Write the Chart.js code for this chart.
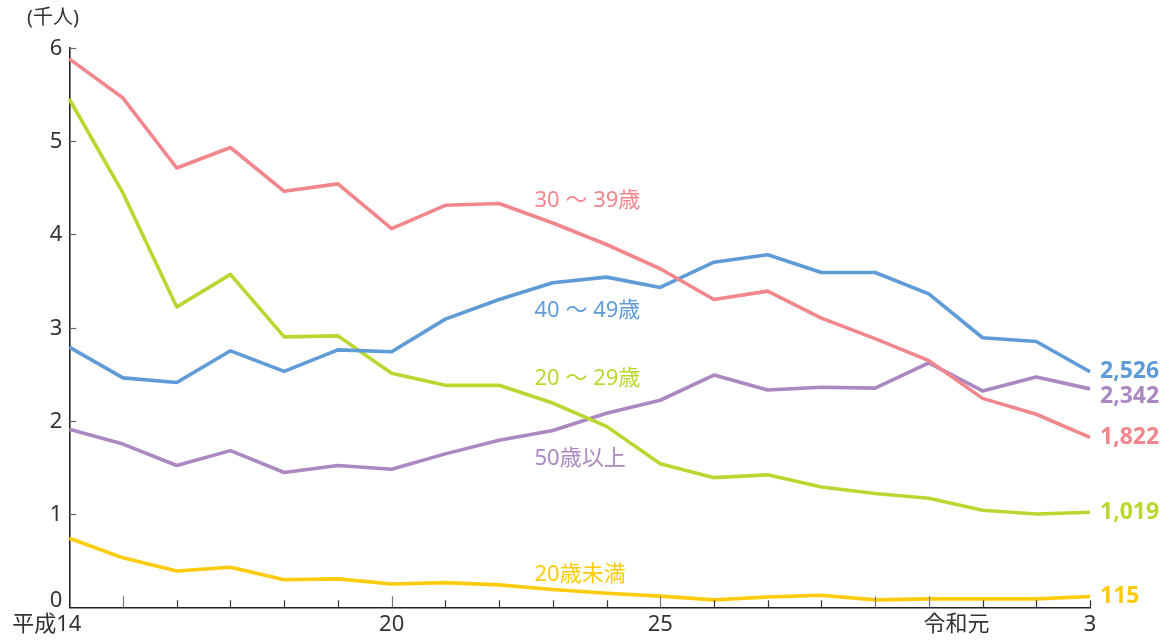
<!DOCTYPE html>
<html lang="ja">
<head>
<meta charset="utf-8">
<script src="https://cdn.jsdelivr.net/npm/chart.js@4.4.1/dist/chart.umd.min.js"></script>
<style>
  html, body { margin: 0; padding: 0; background: #ffffff; }
  #wrap { width: 1168px; height: 640px; position: relative; }
</style>
</head>
<body>
<div id="wrap"><canvas id="c" width="1168" height="640"></canvas></div>
<script>
// ---- data ----
const categories = ["平成14","15","16","17","18","19","20","21","22","23","24","25","26","27","28","29","30","令和元","2","3"];
const age30to39 = [5.88,5.46,4.71,4.93,4.46,4.54,4.06,4.31,4.33,4.12,3.89,3.63,3.30,3.39,3.10,2.88,2.645,2.24,2.07,1.822];
const age40to49 = [2.79,2.46,2.41,2.75,2.53,2.76,2.74,3.09,3.30,3.48,3.54,3.43,3.70,3.78,3.59,3.59,3.36,2.89,2.85,2.526];
const age20to29 = [5.45,4.44,3.22,3.57,2.90,2.91,2.51,2.38,2.38,2.19,1.94,1.54,1.39,1.42,1.29,1.22,1.17,1.04,1.00,1.019];
const age50plus = [1.91,1.75,1.52,1.68,1.445,1.52,1.48,1.645,1.79,1.895,2.08,2.22,2.49,2.33,2.36,2.35,2.62,2.32,2.47,2.342];
const under20   = [0.74,0.53,0.39,0.43,0.295,0.305,0.25,0.265,0.24,0.19,0.15,0.12,0.08,0.11,0.13,0.08,0.09,0.09,0.09,0.115];
const yTicks = [0,1,2,3,4,5,6];
const endLabels = ["2,526","2,342","1,822","1,019","115"];
const seriesNames = ["30 ～ 39歳","40 ～ 49歳","20 ～ 29歳","50歳以上","20歳未満"];
const xTickLabels = [{i:0,t:"平成14"},{i:6,t:"20"},{i:11,t:"25"},{i:17,t:"令和元"},{i:19,t:"3"}];

const COL = {red:"#f2868d", blue:"#5f9bd6", green:"#bcd631", purple:"#ab88c1", yellow:"#fecb0a"};
const FONT = "'Noto Sans','Noto Sans CJK JP',sans-serif";

const datasets = [
  {label: seriesNames[0], data: age30to39, borderColor: COL.red},
  {label: seriesNames[1], data: age40to49, borderColor: COL.blue},
  {label: seriesNames[2], data: age20to29, borderColor: COL.green},
  {label: seriesNames[3], data: age50plus, borderColor: COL.purple},
  {label: seriesNames[4], data: under20,   borderColor: COL.yellow}
].map(d => Object.assign(d, {borderWidth: 3.6, pointRadius: 0, tension: 0, fill: false, borderJoinStyle: 'round'}));

// label anchors in data units (index, value)
const seriesLabelPos = [
  {x: 8.66, y: 4.36, c: COL.red},
  {x: 8.66, y: 3.18, c: COL.blue},
  {x: 8.66, y: 2.45, c: COL.green},
  {x: 8.66, y: 1.59, c: COL.purple},
  {x: 8.66, y: 0.35, c: COL.yellow}
];
const endColors = [COL.blue, COL.purple, COL.red, COL.green, COL.yellow];
const endSeries = [age40to49, age50plus, age30to39, age20to29, under20];
const endShift = [0, 8, 0, 0, 0];

const decor = {
  id: 'decor',
  afterDraw(chart) {
    const ctx = chart.ctx, xs = chart.scales.x, ys = chart.scales.y;
    const bottom = ys.getPixelForValue(0), left = xs.getPixelForValue(0);
    ctx.save();
    // x ticks (inward)
    const tall = [1,6,11,15,16];
    categories.forEach((c, i) => {
      if (i === 0) return;
      const px = Math.round(xs.getPixelForValue(i)) + 0.5;
      const isTall = tall.includes(i);
      ctx.strokeStyle = isTall ? "#777" : "#333";
      ctx.lineWidth = 1.2;
      ctx.beginPath();
      ctx.moveTo(px, bottom);
      ctx.lineTo(px, bottom - (isTall ? 11 : 7));
      ctx.stroke();
    });
    // y ticks (inward) and labels
    ctx.font = "22px " + FONT;
    ctx.textBaseline = "middle";
    ctx.textAlign = "right";
    yTicks.forEach(v => {
      const py = Math.round(ys.getPixelForValue(v)) + 0.5;
      if (v !== 0) {
        ctx.strokeStyle = "#666";
        ctx.lineWidth = 1.2;
        ctx.beginPath();
        ctx.moveTo(left, py);
        ctx.lineTo(left + 7, py);
        ctx.stroke();
      }
      ctx.fillStyle = "#333";
      ctx.fillText(String(v), left - 7, py - (v === 0 ? 7 : 0));
    });
    // x labels
    ctx.fillStyle = "#333";
    ctx.font = "22px " + FONT;
    xTickLabels.forEach(o => {
      const px = xs.getPixelForValue(o.i);
      if (o.i === 0) { ctx.textAlign = "right"; ctx.fillText(o.t, px + 12, 625); }
      else if (o.t === "令和元") { ctx.textAlign = "center"; ctx.fillText(o.t, px - 26, 625); }
      else { ctx.textAlign = "center"; ctx.fillText(o.t, px, 625); }
    });
    // axis title
    ctx.textAlign = "left";
    ctx.font = "20px " + FONT;
    ctx.fillText("(千人)", 27, 18);
    // series labels
    ctx.font = "22px " + FONT;
    seriesLabelPos.forEach((p, k) => {
      ctx.fillStyle = p.c;
      ctx.fillText(seriesNames[k], xs.getPixelForValue(p.x), ys.getPixelForValue(p.y));
    });
    // end labels
    ctx.font = "bold 23px " + FONT;
    endLabels.forEach((t, k) => {
      const arr = endSeries[k];
      ctx.fillStyle = endColors[k];
      ctx.fillText(t, xs.getPixelForValue(arr.length - 1) + 10, ys.getPixelForValue(arr[arr.length - 1]) + endShift[k]);
    });
    ctx.restore();
  }
};

new Chart(document.getElementById('c'), {
  type: 'line',
  data: { labels: categories, datasets },
  options: {
    responsive: false,
    animation: false,
    layout: { padding: { left: 0, right: 78, top: 47.7, bottom: 0 } },
    plugins: { legend: { display: false }, tooltip: { enabled: false } },
    scales: {
      x: {
        type: 'category',
        offset: false,
        grid: { display: false },
        border: { display: true, color: "#222", width: 1.6 },
        ticks: { display: false },
        afterFit(s) { s.height = 32.7; }
      },
      y: {
        min: 0, max: 6,
        afterBuildTicks(s) { s.ticks = yTicks.map(v => ({value: v})); },
        grid: { display: false },
        border: { display: true, color: "#222", width: 1.6 },
        ticks: { display: false },
        afterFit(s) { s.width = 69.3; }
      }
    }
  },
  plugins: [decor]
});
</script>
</body>
</html>
